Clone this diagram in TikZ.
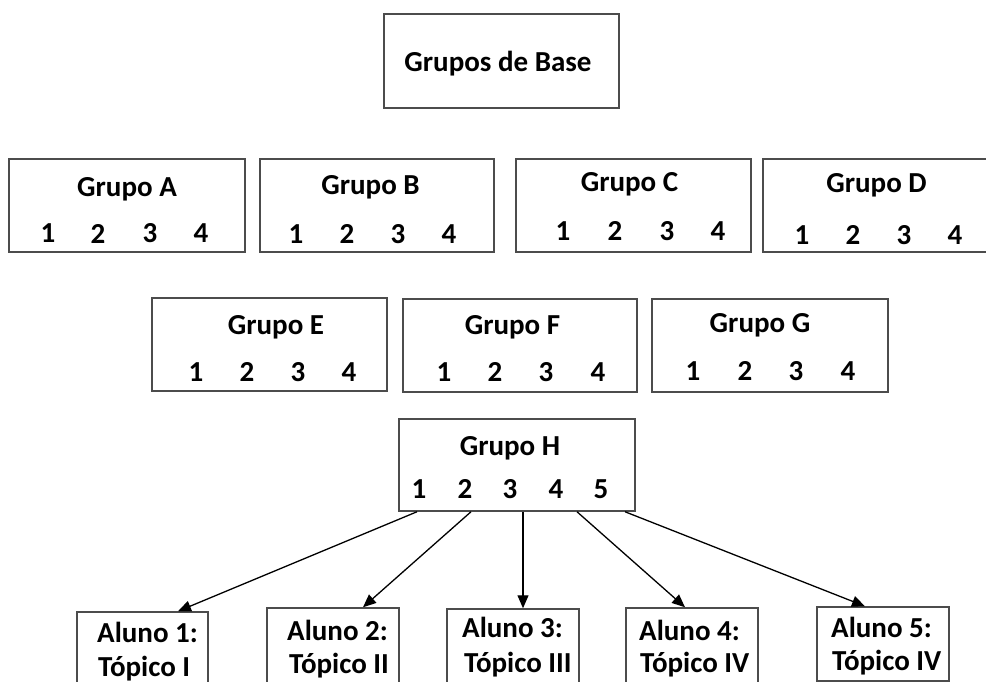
\documentclass[tikz,border=0pt]{standalone}
\usepackage{fontspec}
\setmainfont{Carlito}
\usetikzlibrary{arrows.meta}

\tikzset{
  grp/.style={draw=black!70, line width=1.5pt, rectangle, inner sep=0pt, fill=white},
  ttl/.style={inner sep=0pt, font=\fontsize{29}{35}\selectfont\bfseries},
  num/.style={inner sep=0pt, font=\fontsize{29}{35}\selectfont\bfseries},
  lbl/.style={inner sep=0pt, anchor=base west, font=\fontsize{29}{35}\selectfont\bfseries},
  link/.style={line width=1.3pt, -{Triangle[length=13pt,width=11pt]}}
}

\begin{document}
\begin{tikzpicture}[x=1pt, y=-1pt]
\useasboundingbox (0,0) rectangle (986,682);
\clip (0,0) rectangle (986,682);

% top box
\node[grp, minimum width=235pt, minimum height=94pt] (base) at (501.5,61) {};
\node[ttl] (baseT) at (498,64) {Grupos de Base};

% first row of groups
\node[grp, minimum width=236pt, minimum height=93pt] (A) at (127,205.5) {};
\node[ttl] (AT) at (127,189) {Grupo A};
\foreach \n/\x in {1/48,2/98,3/150,4/201} \node[num] (A\n) at (\x,233.5) {\n};

\node[grp, minimum width=234pt, minimum height=93pt] (B) at (377,205.5) {};
\node[ttl] (BT) at (370.5,187.5) {Grupo B};
\foreach \n/\x in {1/296,2/347,3/398,4/449} \node[num] (B\n) at (\x,234) {\n};

\node[grp, minimum width=235pt, minimum height=93pt] (C) at (633.5,205.5) {};
\node[ttl] (CT) at (629.5,184) {Grupo C};
\foreach \n/\x in {1/563,2/615,3/667,4/718} \node[num] (C\n) at (\x,231) {\n};

\node[grp, minimum width=237pt, minimum height=93pt] (D) at (881.5,205.5) {};
\node[ttl] (DT) at (876.5,185) {Grupo D};
\foreach \n/\x in {1/802,2/853,3/904,4/955} \node[num] (D\n) at (\x,235) {\n};

% second row of groups
\node[grp, minimum width=235pt, minimum height=93pt] (E) at (269.5,344.5) {};
\node[ttl] (ET) at (276,327) {Grupo E};
\foreach \n/\x in {1/196,2/247,3/298,4/349} \node[num] (E\n) at (\x,372) {\n};

\node[grp, minimum width=234pt, minimum height=93pt] (F) at (520,345.5) {};
\node[ttl] (FT) at (512.5,327) {Grupo F};
\foreach \n/\x in {1/444,2/495,3/546,4/598} \node[num] (F\n) at (\x,372) {\n};

\node[grp, minimum width=236pt, minimum height=93pt] (G) at (770,345.5) {};
\node[ttl] (GT) at (760,325) {Grupo G};
\foreach \n/\x in {1/693,2/745,3/796,4/848} \node[num] (G\n) at (\x,371) {\n};

% group H and its five students
\node[grp, minimum width=236pt, minimum height=92pt] (H) at (517,465) {};
\node[ttl] (HT) at (510,448) {Grupo H};
\foreach \n/\x in {1/419,2/465,3/510,4/556,5/601} \node[num] (H\n) at (\x,489) {\n};

\node[grp, minimum width=131pt, minimum height=90pt] (a1) at (142.5,657) {};
\node[grp, minimum width=132pt, minimum height=92pt] (a2) at (333,654) {};
\node[grp, minimum width=132pt, minimum height=91pt] (a3) at (513,654.5) {};
\node[grp, minimum width=132pt, minimum height=92pt] (a4) at (692,654) {};
\node[grp, minimum width=132pt, minimum height=74pt] (a5) at (883,644) {};

\node[lbl] (a1a) at (97,642) {Aluno 1:};
\node[lbl] (a1b) at (98,676) {Tópico I};
\node[lbl] (a2a) at (287,640) {Aluno 2:};
\node[lbl] (a2b) at (289,673) {Tópico II};
\node[lbl] (a3a) at (462,637) {Aluno 3:};
\node[lbl] (a3b) at (464,672) {Tópico III};
\node[lbl] (a4a) at (639,640) {Aluno 4:};
\node[lbl] (a4b) at (640,672) {Tópico IV};
\node[lbl] (a5a) at (831,637) {Aluno 5:};
\node[lbl] (a5b) at (832,670) {Tópico IV};

% arrow ends on the student boxes, starts on the bottom of H
\coordinate (h1) at (417,0 |- H.south);
\coordinate (h2) at (471,0 |- H.south);
\coordinate (h3) at (523,0 |- H.south);
\coordinate (h4) at (577,0 |- H.south);
\coordinate (h5) at (625,0 |- H.south);
\coordinate (t1) at (178,0 |- a1.north);
\coordinate (t2) at (363,0 |- a2.north);
\coordinate (t3) at (523,0 |- a3.north);
\coordinate (t4) at (685,0 |- a4.north);
\coordinate (t5) at (865,0 |- a5.north);

\draw[link] (h1) -- (t1);
\draw[link] (h2) -- (t2);
\draw[link] (h3) -- (t3);
\draw[link] (h4) -- (t4);
\draw[link] (h5) -- (t5);
\end{tikzpicture}
\end{document}
